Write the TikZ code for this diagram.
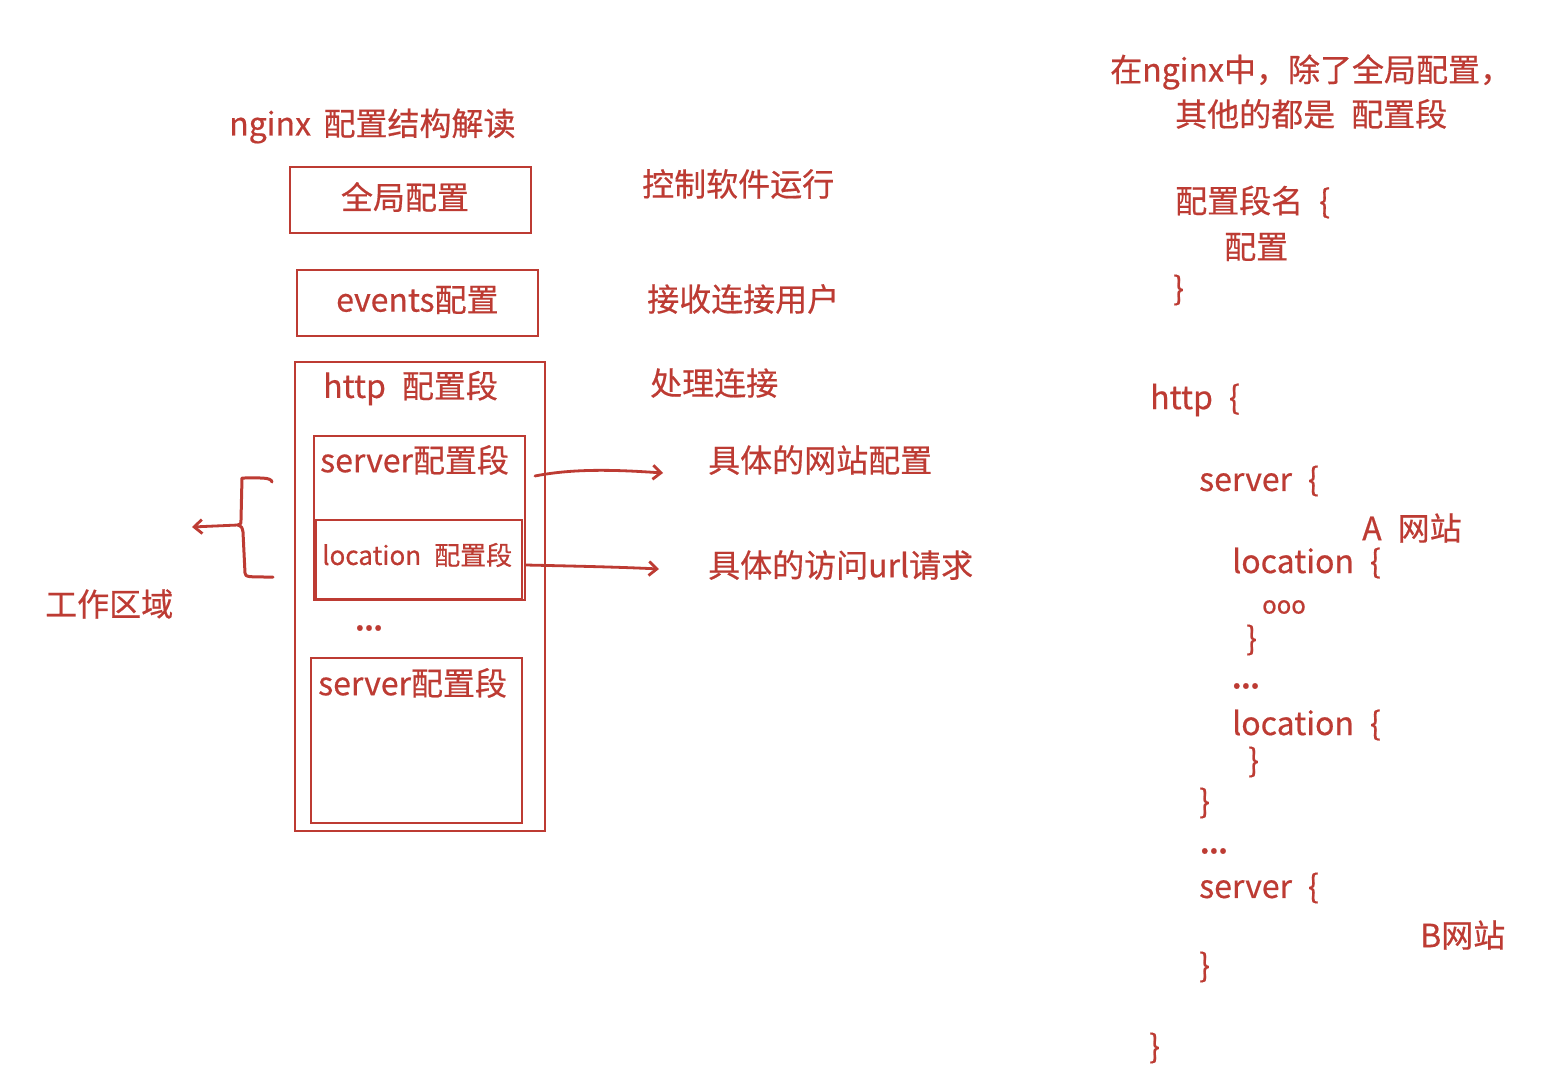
\documentclass[tikz,border=0pt]{standalone}
\usepackage{fontspec}
\setmainfont{Noto Sans CJK SC}[FakeBold=0.5]
\usetikzlibrary{arrows.meta}
\definecolor{myred}{HTML}{BD3B33}
\begin{document}
\begin{tikzpicture}[x=1pt,y=-1pt,
  txt/.style={font=\fontsize{32}{36}\selectfont, text=myred, inner sep=0pt, anchor=west},
  small/.style={font=\fontsize{26}{30}\selectfont, text=myred, inner sep=0pt, anchor=west},
  box/.style={draw=myred, line width=1.8pt, inner sep=0pt, anchor=north west},
  arr/.style={draw=myred, line width=2.8pt, line cap=round, -{Straight Barb[length=8pt,width=14pt,line width=2.8pt]}},
  brk/.style={draw=myred, line width=3pt, line cap=round, line join=round}]
\fill[white] (0,0) rectangle (1560,1090);
\useasboundingbox (0,0) rectangle (1560,1090);

% ---- left diagram ----
\node[txt] (title) at (229,126) {nginx\, 配置结构解读};

\node[box, minimum width=241pt, minimum height=66pt] (glob) at (289,166) {};
\node[txt, anchor=center] (globt) at (405,197) {全局配置};

\node[box, minimum width=241pt, minimum height=66pt] (evt) at (296,269) {};
\node[txt] (evtt) at (336,300) {events配置};

\node[box, minimum width=250pt, minimum height=469pt] (http) at (294,361) {};
\node[txt] (httpt) at (323,388) {http\; 配置段};

\node[box, minimum width=211pt, minimum height=164pt] (srv1) at (313,435) {};
\node[txt] (srv1t) at (320,460) {server配置段};

\node[box, minimum width=206pt, minimum height=79pt] (loc) at (315,519) {};
\node[small] (loct) at (322,555) {location\; 配置段};

\node[txt, font=\fontsize{26}{30}\selectfont\bfseries, anchor=center] (dots1) at (369,628) {...};

\node[box, minimum width=211pt, minimum height=165pt] (srv2) at (310,657) {};
\node[txt] (srv2t) at (318,683) {server配置段};

\node[txt] (d1) at (642,184) {控制软件运行};
\node[txt] (d2) at (647,299) {接收连接用户};
\node[txt] (d3) at (650,383) {处理连接};
\node[txt] (d4) at (708,460) {具体的网站配置};
\node[txt] (d5) at (708,565) {具体的访问url请求};
\node[txt] (work) at (45,604) {工作区域};

\coordinate (a1s) at (535,476);
\coordinate (a1e) at (663,473);
\coordinate (a2s) at (526,565);
\coordinate (a2e) at (659,569);
\draw[arr] (a1s) .. controls (575,468) and (620,470) .. (a1e);
\draw[arr] (a2s) .. controls (570,566) and (620,567) .. (a2e);

% bracket
\coordinate (bt) at (272,482);
\coordinate (bm) at (238,525);
\coordinate (bb) at (273,577);
\coordinate (wa) at (192,527);
\draw[brk] (bt) .. controls (271,477) and (260,478) .. (242,478)
  -- (241,520) .. controls (241,524) .. (bm)
  .. controls (242,527) .. (243,532) -- (245,573)
  .. controls (246,577) .. (bb);
\draw[arr] (bm) -- (wa);

% ---- right text ----
\node[txt] (r1) at (1110,72) {在nginx中，除了全局配置，};
\node[txt] (r2) at (1175,114) {其他的都是\; 配置段};
\node[txt] (r3) at (1175,202) {配置段名\; \{};
\node[txt] (r4) at (1224,247) {配置};
\node[txt] (r5) at (1173,290) {\}};
\node[txt] (r6) at (1150,400) {http\; \{};
\node[txt] (r7) at (1199,481) {server\; \{};
\node[txt] (r8) at (1362,528) {A\; 网站};
\node[txt] (r9) at (1232,563) {location\; \{};
\node[txt, font=\fontsize{24}{26}\selectfont] (r10) at (1262,607) {ooo};
\node[txt] (r11) at (1246,640) {\}};
\node[txt, font=\fontsize{26}{30}\selectfont\bfseries] (r12) at (1232,686) {...};
\node[txt] (r13) at (1232,725) {location\; \{};
\node[txt] (r14) at (1248,762) {\}};
\node[txt] (r15) at (1199,803) {\}};
\node[txt, font=\fontsize{26}{30}\selectfont\bfseries] (r16) at (1200,851) {...};
\node[txt] (r17) at (1199,888) {server\; \{};
\node[txt] (r18) at (1420,935) {B网站};
\node[txt] (r19) at (1199,967) {\}};
\node[txt] (r20) at (1149,1048) {\}};
\end{tikzpicture}
\end{document}
